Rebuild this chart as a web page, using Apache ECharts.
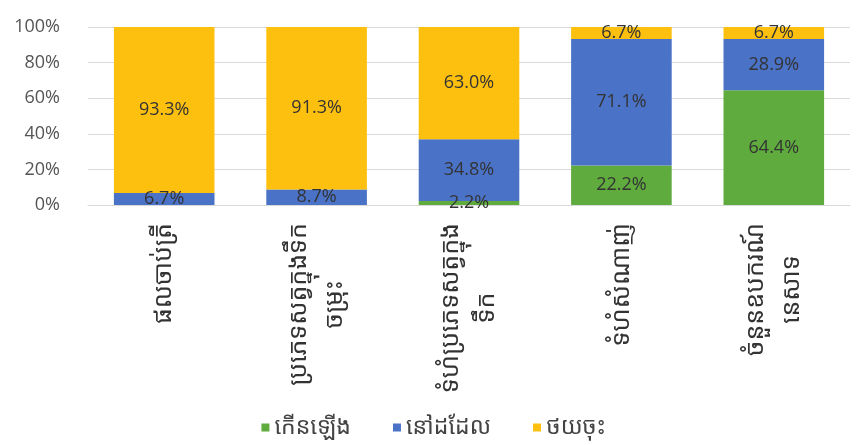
<!DOCTYPE html>
<html>
<head>
<meta charset="utf-8">
<script src="https://cdn.jsdelivr.net/npm/echarts@6/dist/echarts.min.js"></script>
<style>
  html, body { margin: 0; padding: 0; background: #fff; }
  #chart { width: 867px; height: 445px; }
</style>
</head>
<body>
<div id="chart"></div>
<script>
// Categories (line breaks as the labels wrap under each bar)
const categories = [
  'ផលចាប់ត្រី',
  'ប្រភេទសត្វក្នុងទឹក\nចម្រុះ',
  'ទំហំប្រភេទសត្វក្នុង\nទឹក',
  'ទំហំសំណាញ់',
  'ចំនួនឧបករណ៍\nនេសាទ'
];
const seriesNames = ['កើនឡើង', 'នៅដដែល', 'ថយចុះ'];
// Shares in percent for each category
const increased = [0, 0, 2.2, 22.2, 64.4];
const unchanged = [6.7, 8.7, 34.8, 71.1, 28.9];
const decreased = [93.3, 91.3, 63.0, 6.7, 6.7];
const yTicks = [0, 20, 40, 60, 80, 100];

const colors = ['#5fab3e', '#4a72c6', '#fec00f'];
const labelFont = '"Open Sans", "Noto Sans", sans-serif';
const khmerFont = '"Noto Sans Khmer", "Khmer OS", "Noto Sans", sans-serif';

const chart = echarts.init(document.getElementById('chart'));

function barSeries(name, data, color) {
  return {
    name: name,
    type: 'bar',
    stack: 'total',
    data: data,
    barCategoryGap: '34%',
    itemStyle: { color: color },
    label: {
      show: true,
      position: 'inside',
      color: '#333',
      fontSize: 18,
      fontFamily: labelFont,
      formatter: p => (p.value > 0 ? p.value.toFixed(1) + '%' : '')
    },
    emphasis: { disabled: true }
  };
}

chart.setOption({
  animation: false,
  grid: { left: 88, right: 17, top: 27, bottom: 240 },
  legend: {
    top: 411,
    left: 'center',
    itemWidth: 8,
    itemHeight: 8,
    itemGap: 42,
    icon: 'rect',
    textStyle: { fontSize: 23, color: '#444', fontFamily: khmerFont },
    data: seriesNames
  },
  xAxis: {
    type: 'category',
    data: categories,
    axisLine: { show: true, lineStyle: { color: '#d9d9d9' } },
    axisTick: { show: false },
    axisLabel: {
      rotate: 90,
      interval: 0,
      margin: 18,
      color: '#333',
      fontSize: 25,
      fontFamily: khmerFont,
      lineHeight: 36,
      formatter: v => v.split('\n').map(s => '{c|' + s + '}').join('\n'),
      rich: { c: { align: 'center', fontSize: 25, fontFamily: khmerFont, color: '#333', lineHeight: 36 } }
    }
  },
  yAxis: {
    type: 'value',
    min: yTicks[0],
    max: yTicks[yTicks.length - 1],
    interval: 20,
    axisLine: { show: false },
    axisTick: { show: false },
    splitLine: { lineStyle: { color: '#d9d9d9' } },
    axisLabel: {
      margin: 28,
      color: '#555',
      fontSize: 18,
      fontFamily: labelFont,
      formatter: v => v + '%'
    }
  },
  series: [
    barSeries(seriesNames[0], increased, colors[0]),
    barSeries(seriesNames[1], unchanged, colors[1]),
    barSeries(seriesNames[2], decreased, colors[2])
  ]
});
</script>
</body>
</html>
